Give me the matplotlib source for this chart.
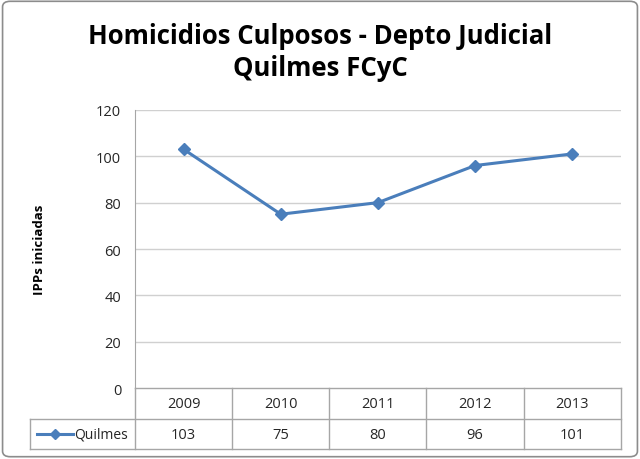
import matplotlib
matplotlib.use("Agg")
import matplotlib.pyplot as plt
from matplotlib.patches import FancyBboxPatch
from matplotlib.lines import Line2D

plt.rcParams['font.family'] = ['Open Sans', 'DejaVu Sans']

years = ['2009', '2010', '2011', '2012', '2013']
quilmes = [103, 75, 80, 96, 101]
yticks = [0, 20, 40, 60, 80, 100, 120]
title = 'Homicidios Culposos - Depto Judicial\nQuilmes FCyC'
ylabel = 'IPPs iniciadas'
series_name = 'Quilmes'

line_col = '#4a7ebb'
grid_col = '#d0d0d0'
tab_col = '#a6a6a6'

fig = plt.figure(figsize=(6.4, 4.6), dpi=100)
fig.patches.append(FancyBboxPatch((0.004, 0.005), 0.992, 0.99, boxstyle='round,pad=0,rounding_size=0.012',
                                  transform=fig.transFigure, fill=False, ec='#8c8c8c', lw=1.2))

ax = fig.add_axes([0.211, 0.154, 0.759, 0.605])
n = len(years)
x = list(range(n))
ax.plot(x, quilmes, color=line_col, lw=2.2, marker='D', ms=6.5, zorder=3)
ax.set_xlim(-0.5, n - 0.5)
ax.set_ylim(0, 120)
ax.set_yticks(yticks)
ax.set_xticks([])
ax.tick_params(axis='y', length=0, pad=10, labelsize=10.5, colors='#262626')
for y in yticks[1:]:
    ax.axhline(y, color=grid_col, lw=1, zorder=1)
for s in ['top', 'right', 'bottom']:
    ax.spines[s].set_visible(False)
ax.spines['left'].set_color(tab_col)
ax.set_ylabel(ylabel, fontsize=9.5, fontweight='bold', labelpad=36)

fig.text(0.5, 0.886, title, ha='center', va='center', fontsize=18.5, fontweight='bold', linespacing=1.25)

# data table below the axis
tr = ax.get_xaxis_transform()
h1 = -31 / 278
h2 = -61 / 278
left = -0.5 - (105 / 486) * n
kw = dict(color=tab_col, lw=1, transform=tr, clip_on=False)
ax.add_line(Line2D([-0.5, n - 0.5], [0, 0], **kw))
ax.add_line(Line2D([left, n - 0.5], [h1, h1], **kw))
ax.add_line(Line2D([left, n - 0.5], [h2, h2], **kw))
ax.add_line(Line2D([left, left], [h1, h2], **kw))
for i in range(n + 1):
    ax.add_line(Line2D([i - 0.5, i - 0.5], [0, h2], **kw))
for i in range(n):
    ax.text(i, h1 / 2, years[i], transform=tr, ha='center', va='center', fontsize=10.5, color='#262626')
    ax.text(i, (h1 + h2) / 2, str(quilmes[i]), transform=tr, ha='center', va='center', fontsize=10.5, color='#262626')
lx = left + 0.07
ym = (h1 + h2) / 2
ax.add_line(Line2D([lx, lx + 0.37], [ym, ym], color=line_col, lw=2.2, transform=tr, clip_on=False))
ax.add_line(Line2D([lx + 0.185], [ym], color=line_col, marker='D', ms=5.5, lw=0,
                   transform=tr, clip_on=False))
ax.text(lx + 0.38, ym, series_name, transform=tr, ha='left', va='center', fontsize=10, color='#262626')

fig.savefig('out.png', dpi=100)
